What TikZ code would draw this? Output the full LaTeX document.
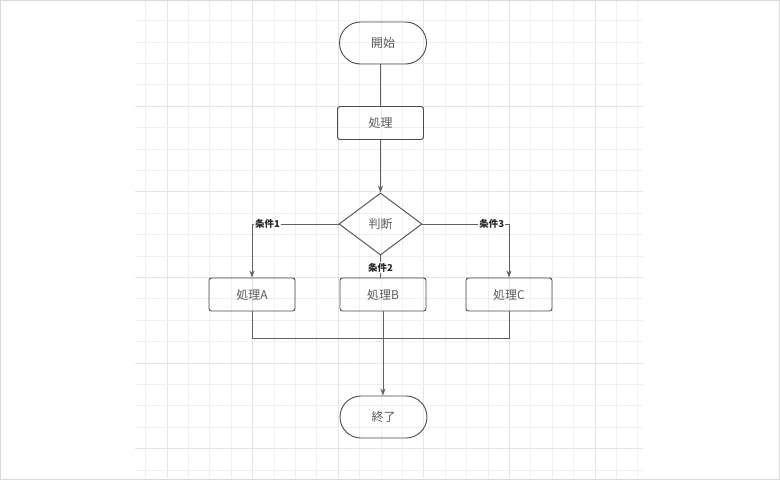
\documentclass[tikz,border=0pt]{standalone}
\usepackage{fontspec}
\setmainfont{Noto Sans CJK JP}
\usetikzlibrary{shapes.geometric,arrows.meta}
\definecolor{gridc}{HTML}{EFEFEF}
\definecolor{gridm}{HTML}{E4E4E4}
\definecolor{framec}{HTML}{D9D9D9}
\definecolor{linec}{HTML}{606060}
\definecolor{boxc}{HTML}{4A4A4A}
\definecolor{txtc}{HTML}{5A5A5A}
\begin{document}
\begin{tikzpicture}[x=1pt,y=-1pt,
  termbox/.style={draw=boxc, line width=0.9pt, rectangle, rounded corners=21pt, minimum width=87pt, minimum height=42pt, inner sep=0pt, text=txtc, font=\fontsize{12}{14}\selectfont},
  procbox/.style={draw=boxc, line width=0.9pt, rectangle, rounded corners=2.5pt, minimum width=86pt, minimum height=33pt, inner sep=0pt, text=txtc, font=\fontsize{12}{14}\selectfont},
  decbox/.style={draw=boxc, line width=0.9pt, diamond, minimum width=83pt, minimum height=62pt, inner sep=0pt, text=txtc, font=\fontsize{12}{14}\selectfont},
  conn/.style={draw=linec, line width=0.9pt},
  arr/.style={conn, -{Stealth[length=7pt,width=5pt]}},
  lbl/.style={fill=white, inner sep=0.8pt, text=black!85, font=\fontsize{9.5}{10}\selectfont\bfseries}
]
\useasboundingbox (0,0) rectangle (780,480);
\fill[white] (0,0) rectangle (780,480);
% grid
\foreach \k in {-1,...,22} {
  \pgfmathsetmacro{\xx}{167+21.4*\k}
  \draw[gridc, line width=0.7pt] (\xx,0) -- (\xx,478);
}
\foreach \k in {0,4,...,20} {
  \pgfmathsetmacro{\xx}{167+21.4*\k}
  \draw[gridm, line width=0.7pt] (\xx,0) -- (\xx,478);
}
\foreach \k in {0,...,21} {
  \pgfmathsetmacro{\yy}{20.5+21.4*\k}
  \draw[gridc, line width=0.7pt] (135,\yy) -- (643,\yy);
}
\foreach \k in {4,8,...,20} {
  \pgfmathsetmacro{\yy}{20.5+21.4*\k}
  \draw[gridm, line width=0.7pt] (135,\yy) -- (643,\yy);
}
\draw[framec, line width=1pt] (0.5,0.5) rectangle (779.5,479.5);

% nodes
\node[termbox] (start) at (383,43) {開始};
\node[procbox] (p0) at (380.5,123) {処理};
\node[decbox] (dec) at (380.5,224) {判断};
\node[procbox] (pa) at (252,294.5) {処理A};
\node[procbox] (pb) at (383,294.5) {処理B};
\node[procbox] (pc) at (509,294.5) {処理C};
\node[termbox] (end) at (383.5,417) {終了};
\coordinate (m) at (383,338);

% connectors
\draw[conn] (start.south -| p0) -- (p0.north);
\draw[arr] (p0) -- (dec.north);
\draw[arr] (dec.west) -| node[lbl, pos=0.41] {条件1} (pa.north);
\draw[arr] (dec.east) -| node[lbl, pos=0.40] {条件3} (pc.north);
\draw[conn] (dec.south) -- node[lbl, pos=0.55] {条件2} (dec.south |- pb.north);
\draw[conn] (pa.south) |- (m);
\draw[conn] (pc.south) |- (m);
\draw[arr] (pb.south) -- (end.north -| pb);
\end{tikzpicture}
\end{document}
